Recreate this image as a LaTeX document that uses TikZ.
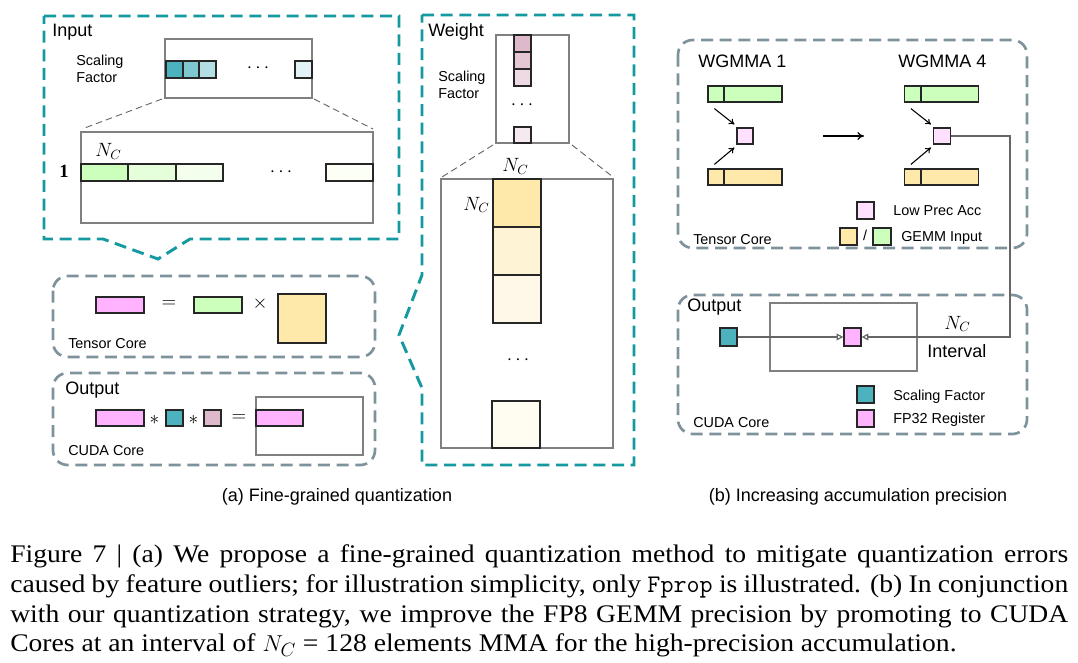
\documentclass[tikz,border=0pt]{standalone}
\usepackage{fontspec}
\setmainfont{Liberation Serif}
\setsansfont{Liberation Sans}
\newfontfamily\capfont{Liberation Serif}[FakeStretch=1.09]
\usetikzlibrary{arrows.meta,calc}
\definecolor{tealc}{HTML}{1599A0}
\definecolor{grayd}{HTML}{7D929B}
\definecolor{pinkc}{HTML}{FFB3FF}
\definecolor{lowpink}{HTML}{FFE0FF}
\definecolor{greenc}{HTML}{CCFFBB}
\definecolor{yellowc}{HTML}{FFE9AA}
\definecolor{tealsq}{HTML}{4BB2BE}
\definecolor{mauve}{HTML}{DDB9CB}
\definecolor{sfA}{HTML}{4BB2BE}
\definecolor{sfB}{HTML}{7FC8D0}
\definecolor{sfC}{HTML}{B3DEE3}
\definecolor{sfD}{HTML}{E2F3F5}
\definecolor{wA}{HTML}{DDB9CB}
\definecolor{wB}{HTML}{E4C6D5}
\definecolor{wC}{HTML}{EEDAE4}
\definecolor{wD}{HTML}{F6EAF0}
\definecolor{gA}{HTML}{CCFFBB}
\definecolor{gB}{HTML}{E6FFDB}
\definecolor{gC}{HTML}{F3FFEC}
\definecolor{gD}{HTML}{FBFFF5}
\definecolor{yA}{HTML}{FFE9AA}
\definecolor{yB}{HTML}{FFF3D5}
\definecolor{yC}{HTML}{FFF8E8}
\definecolor{yD}{HTML}{FFFCF2}
\tikzset{
  cell/.style={draw=black!85, line width=0.9pt},
  thinbox/.style={draw=black!50, line width=0.8pt},
  tealbox/.style={draw=tealc, line width=2.2pt, dash pattern=on 9pt off 5pt},
  graybox/.style={draw=grayd, line width=2pt, dash pattern=on 9pt off 5pt, rounded corners=11pt},
  zoomline/.style={draw=black!60, line width=0.7pt, dash pattern=on 5pt off 3pt},
  gline/.style={draw=black!60, line width=0.9pt},
  arr/.style={draw=black, line width=0.8pt, -{To[length=4pt,width=5pt]}},
  head/.style={font=\fontsize{13.5}{16}\sffamily, inner sep=0pt},
  small/.style={font=\fontsize{10.8}{13}\sffamily, inner sep=0pt},
  mlbl/.style={font=\fontsize{14}{16}\selectfont, inner sep=0pt},
  sym/.style={font=\fontsize{15}{17}\selectfont, inner sep=0pt},
  capt/.style={font=\fontsize{19}{22}\capfont, inner sep=0pt},
  sublbl/.style={font=\fontsize{13.5}{16}\sffamily, inner sep=0pt},
}
\begin{document}
\begin{tikzpicture}[x=0.75pt,y=-0.75pt]
\useasboundingbox (0,0) rectangle (1078,663);

% ---------------- Input ----------------
\draw[tealbox] (44,16) -- (399,16) -- (399,239) -- (190,239) -- (158,259) -- (103,239) -- (44,239) -- cycle;
\node[head, anchor=base west] (inputlbl) at (52,37) {Input};
\node[small, anchor=base west] (isf1) at (76,66) {Scaling};
\node[small, anchor=base west] (isf2) at (76,83) {Factor};
\draw[thinbox] (165,39) rectangle (312,98);
\draw[cell, fill=sfA] (166,61) rectangle (183,78);
\draw[cell, fill=sfB] (183,61) rectangle (199,78);
\draw[cell, fill=sfC] (199,61) rectangle (216,78);
\draw[cell, fill=sfD] (295,61) rectangle (312,78);
\node[mlbl, anchor=base] (idots1) at (258,72.5) {$\cdots$};
\draw[zoomline] (162,99) -- (82,129);
\draw[zoomline] (314,99) -- (373,129);
\draw[thinbox] (81,132) rectangle (373,223);
\draw[cell, fill=gA] (81,164) rectangle (128,181);
\draw[cell, fill=gB] (128,164) rectangle (176,181);
\draw[cell, fill=gC] (176,164) rectangle (223,181);
\draw[cell, fill=gD] (326,164) rectangle (373,181);
\node[mlbl, anchor=base] (idots2) at (281,176.5) {$\cdots$};
\node[mlbl, anchor=base west] (inc) at (95,157) {$N_C$};
\node[mlbl, anchor=base] (ione) at (64,178) {$\mathbf{1}$};

% ---------------- Weight ----------------
\draw[tealbox] (422,15) -- (634,15) -- (634,465) -- (422,465) -- (422,388) -- (399,335) -- (422,275) -- cycle;
\node[head, anchor=base west] (weightlbl) at (428,37) {Weight};
\node[small, anchor=base west] (wsf1) at (438,82) {Scaling};
\node[small, anchor=base west] (wsf2) at (438,99) {Factor};
\draw[thinbox] (496,35) rectangle (569,143);
\draw[cell, fill=wA] (514,35) rectangle (531,52);
\draw[cell, fill=wB] (514,52) rectangle (531,69);
\draw[cell, fill=wC] (514,69) rectangle (531,86);
\draw[cell, fill=wD] (514,127) rectangle (531,143);
\node[mlbl, anchor=base] (wdots1) at (522,109.5) {$\cdots$};
\draw[zoomline] (493,145) -- (442,177);
\draw[zoomline] (572,145) -- (613,177);
\draw[thinbox] (441,179) rectangle (613,448);
\draw[cell, fill=yA] (493,179) rectangle (541,227);
\draw[cell, fill=yB] (493,227) rectangle (541,275);
\draw[cell, fill=yC] (493,275) rectangle (541,323);
\draw[cell, fill=yD] (492,401) rectangle (540,448);
\node[mlbl, anchor=base] (wdots2) at (518,364.5) {$\cdots$};
\node[mlbl, anchor=base west] (wnc1) at (502,172) {$N_C$};
\node[mlbl, anchor=base west] (wnc2) at (463,210) {$N_C$};

% ---------------- Tensor Core (left) ----------------
\draw[graybox] (53,276) rectangle (375,357);
\draw[cell, fill=pinkc] (96,297) rectangle (144,313);
\node[sym] (teq) at (169,304) {$=$};
\draw[cell, fill=greenc] (194,297) rectangle (242,313);
\node[sym] (tx) at (260,304) {$\times$};
\draw[cell, fill=yellowc] (278,294) rectangle (326,343);
\node[small, anchor=base west] (tclbl) at (68,348) {Tensor Core};

% ---------------- Output (left) ----------------
\draw[graybox] (53,373) rectangle (375,465);
\node[head, anchor=base west] (outlbl) at (65,394) {Output};
\draw[cell, fill=pinkc] (96,410) rectangle (144,426);
\node[sym] (ost1) at (154.5,420) {$*$};
\draw[cell, fill=tealsq] (166,410) rectangle (183,426);
\node[sym] (ost2) at (193.5,420) {$*$};
\draw[cell, fill=mauve] (204,410) rectangle (221,426);
\node[sym] (oeq) at (239,418) {$=$};
\draw[thinbox] (256,397) rectangle (363,455);
\draw[cell, fill=pinkc] (256,410) rectangle (303,426);
\node[small, anchor=base west] (cclbl) at (68,455) {CUDA Core};

% ---------------- Right: Tensor Core ----------------
\draw[graybox] (678,40) rectangle (1027,248);
\node[head, anchor=base west] (wg1) at (698,68) {WGMMA 1};
\node[head, anchor=base west] (wg4) at (898,68) {WGMMA 4};
\node[cell, fill=greenc, minimum width=55.5pt, minimum height=12pt, inner sep=0pt] (g1) at (745,94) {};
\node[cell, fill=yellowc, minimum width=55.5pt, minimum height=12pt, inner sep=0pt] (y1) at (745,177) {};
\node[cell, fill=greenc, minimum width=55.5pt, minimum height=12pt, inner sep=0pt] (g4) at (941.5,94) {};
\node[cell, fill=yellowc, minimum width=55.5pt, minimum height=12pt, inner sep=0pt] (y4) at (941.5,177) {};
\draw[cell] (724,86) -- (724,102);
\draw[cell] (724,169) -- (724,185);
\draw[cell] (921,86) -- (921,102);
\draw[cell] (921,169) -- (921,185);
\node[cell, fill=lowpink, minimum width=12pt, minimum height=12pt, inner sep=0pt] (acc1) at (745,136) {};
\node[cell, fill=lowpink, minimum width=12.75pt, minimum height=12pt, inner sep=0pt] (acc4) at (942,136) {};
\draw[arr] ($(g1.south west)+(7,6)$) -- ($(acc1.north west)+(-2,-3)$);
\draw[arr] ($(y1.north west)+(7,-4)$) -- ($(acc1.south west)+(-2,3)$);
\draw[arr] ($(g4.south west)+(7,6)$) -- ($(acc4.north west)+(-2,-3)$);
\draw[arr] ($(y4.north west)+(7,-4)$) -- ($(acc4.south west)+(-2,3)$);
\coordinate (ma) at (823,136);
\coordinate (mb) at (864,136);
\draw[line width=0.9pt, -{To[length=5pt,width=6pt]}] (ma) -- (mb);
\draw[cell, fill=lowpink] (857,202) rectangle (874,219);
\node[small, anchor=base west] (lpa) at (893,215) {Low Prec Acc};
\draw[cell, fill=yellowc] (840,228) rectangle (857,245);
\node[small] (slash) at (865,235) {/};
\draw[cell, fill=greenc] (873,228) rectangle (891,245);
\node[small, anchor=base west] (gemm) at (901,241) {GEMM Input};
\node[small, anchor=base west] (rtc) at (693,244) {Tensor Core};

% ---------------- Right: Output ----------------
\draw[graybox] (678,295) rectangle (1027,434);
\node[head, anchor=base west] (routlbl) at (687,311) {Output};
\draw[thinbox] (770,303) rectangle (917,371);
\node[cell, fill=tealsq, minimum width=12.75pt, minimum height=13.5pt, inner sep=0pt] (sf) at (728.5,337) {};
\node[cell, fill=pinkc, minimum width=12.75pt, minimum height=13.5pt, inner sep=0pt] (reg) at (852.5,337) {};
\coordinate (turn) at (1010,337);
\draw[gline, -{Triangle[open, length=5pt, width=5pt]}] (sf.east) -- (reg.west);
\draw[gline, -{Triangle[open, length=5pt, width=5pt]}] (acc4.east) -| (turn) -- (reg.east);
\node[mlbl, anchor=base west] (rnc) at (944,329) {$N_C$};
\node[head, anchor=base west] (intv) at (927,357) {Interval};
\draw[cell, fill=tealsq] (857,386) rectangle (874,403);
\node[small, anchor=base west] (lsf) at (893,400) {Scaling Factor};
\draw[cell, fill=pinkc] (857,410) rectangle (874,427);
\node[small, anchor=base west] (lfp) at (893,423) {FP32 Register};
\node[small, anchor=base west] (rcc) at (693,427) {CUDA Core};

% ---------------- Sub-captions ----------------
\node[sublbl, anchor=base] (suba) at (337,501) {(a) Fine-grained quantization};
\node[sublbl, anchor=base] (subb) at (858,501) {(b) Increasing accumulation precision};

% ---------------- Caption ----------------
\node[capt, anchor=base west] (cap1) at (10,562) {\makebox[793.5pt][s]{Figure 7 | (a) We propose a fine-grained quantization method to mitigate quantization errors}};
\node[capt, anchor=base west] (cap2) at (10,592) {\makebox[793.5pt][s]{caused by feature outliers; for illustration simplicity, only \texttt{Fprop} is illustrated. (b) In conjunction}};
\node[capt, anchor=base west] (cap3) at (10,622) {\makebox[793.5pt][s]{with our quantization strategy, we improve the FP8 GEMM precision by promoting to CUDA}};
\node[capt, anchor=base west] (cap4) at (10,651) {Cores at an interval of $N_C$ = 128 elements MMA for the high-precision accumulation.};
\end{tikzpicture}
\end{document}
